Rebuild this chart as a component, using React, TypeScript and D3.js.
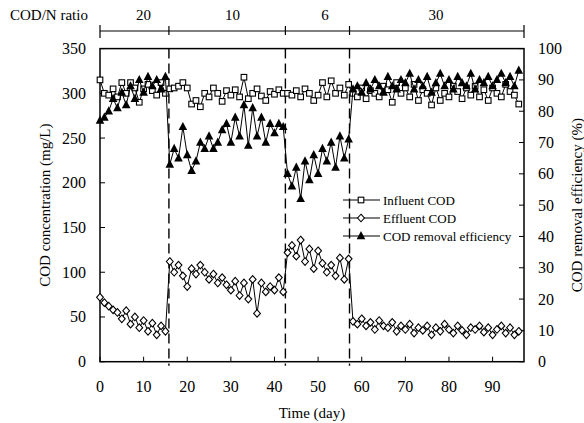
import React from "react";
import * as d3 from "d3";

const days = [
  0, 1, 2, 3, 4, 5, 6, 7, 8, 9, 10, 11, 12, 13, 14, 15,
  16, 17, 18, 19, 20, 21, 22, 23, 24, 25, 26, 27, 28, 29, 30, 31, 32, 33, 34, 35, 36, 37, 38, 39, 40, 41, 42,
  43, 44, 45, 46, 47, 48, 49, 50, 51, 52, 53, 54, 55, 56, 57,
  58, 59, 60, 61, 62, 63, 64, 65, 66, 67, 68, 69, 70, 71, 72, 73, 74, 75, 76, 77, 78, 79, 80, 81, 82, 83, 84, 85, 86, 87, 88, 89, 90, 91, 92, 93, 94, 95, 96,
];

const influentCOD = [
  315, 300, 298, 305, 296, 312, 300, 312, 306, 290, 305, 310, 303, 298, 312, 300,
  305, 306, 308, 312, 306, 288, 292, 285, 300, 296, 306, 300, 291, 303, 298, 304, 296, 318, 294, 300, 305, 297, 292, 302, 299, 304, 300,
  300, 298, 303, 296, 305, 300, 292, 298, 312, 296, 314, 300, 306, 298, 310,
  300, 296, 306, 294, 303, 300, 296, 308, 304, 290, 312, 300, 306, 296, 310, 292, 304, 300, 287, 306, 292, 300, 296, 308, 302, 294, 306, 298, 308, 296, 304, 292, 306, 300, 296, 310, 302, 298, 288,
];

const effluentCOD = [
  72, 66, 62, 58, 55, 48, 57, 42, 50, 38, 46, 34, 43, 30, 40, 34,
  112, 100, 108, 96, 84, 104, 98, 108, 100, 92, 98, 88, 94, 86, 80, 90, 74, 88, 70, 92, 54, 88, 78, 84, 80, 94, 78,
  122, 130, 118, 136, 112, 126, 104, 124, 110, 100, 108, 96, 116, 92, 115,
  45, 42, 48, 40, 44, 36, 46, 40, 38, 44, 34, 40, 36, 42, 32, 38, 35, 40, 30, 38, 34, 42, 36, 32, 40, 35, 30, 38, 36, 40, 33, 38, 30, 36, 40, 32, 38, 30, 34,
];

const removalEff = [
  77, 78, 80, 84, 81, 86, 82, 88, 84, 90, 86, 91, 88, 90, 87, 91,
  63, 68, 65, 75, 66, 61, 64, 70, 68, 72, 68, 70, 74, 76, 70, 78, 72, 82, 69, 81, 72, 78, 70, 76, 73, 76, 75,
  60, 56, 62, 52, 64, 58, 66, 60, 68, 64, 70, 62, 72, 65, 71,
  87, 88, 86, 89, 87, 90, 88, 86, 91, 88, 87, 90, 89, 92, 87, 90, 88, 91, 86, 89, 92, 88, 90, 87, 91, 89, 88, 92, 87, 90, 89, 91, 88, 90, 92, 89, 91, 88, 93,
];

const phaseBounds = [0, 15.8, 42.5, 57.2, 97.2];
const phaseLabels = ["20", "10", "6", "30"];
const phaseLabelDays = [10, 30.4, 51.6, 77];

const leftTicks = [0, 50, 100, 150, 200, 250, 300, 350];
const rightTicks = [0, 10, 20, 30, 40, 50, 60, 70, 80, 90, 100];
const xTicks = [0, 10, 20, 30, 40, 50, 60, 70, 80, 90];

const legendItems = ["Influent COD", "Effluent COD", "COD removal efficiency"];

const FONT = "'Liberation Serif', 'Times New Roman', serif";

export default function App() {
  const L = 100, R = 524, T = 48.6, B = 361.7;
  const x = d3.scaleLinear().domain([0, 97.2]).range([L, R]);
  const yL = d3.scaleLinear().domain([0, 350]).range([B, T]);
  const yR = d3.scaleLinear().domain([0, 100]).range([B, T]);

  const lineL = d3.line<number>().x((_, i) => x(days[i])).y((v) => yL(v));
  const lineR = d3.line<number>().x((_, i) => x(days[i])).y((v) => yR(v));

  const sq = (cx: number, cy: number, k: string) => (
    <rect key={k} x={cx - 2.8} y={cy - 2.8} width={5.6} height={5.6} fill="white" stroke="black" strokeWidth={1.1} />
  );
  const dia = (cx: number, cy: number, k: string) => (
    <path key={k} d={`M${cx},${cy - 3.8}L${cx + 3.4},${cy}L${cx},${cy + 3.8}L${cx - 3.4},${cy}Z`} fill="white" stroke="black" strokeWidth={1.1} />
  );
  const tri = (cx: number, cy: number, k: string) => (
    <path key={k} d={`M${cx},${cy - 5}L${cx + 4.3},${cy + 3.2}L${cx - 4.3},${cy + 3.2}Z`} fill="black" />
  );

  const bracketY = 31;
  const legX = 343, legX2 = 380, legMk = 361;
  const legYs = [200, 218, 236];

  return (
    <svg width={584} height={423} style={{ position: "absolute", left: 0, top: 0, background: "white" }} fontFamily={FONT}>
      {/* top COD/N bracket */}
      <text x={10} y={bracketY - 11} fontSize={15}>COD/N ratio</text>
      {phaseLabels.map((t, i) => (
        <text key={t} x={x(phaseLabelDays[i])} y={bracketY - 11} fontSize={15} textAnchor="middle">{t}</text>
      ))}
      <line x1={L} x2={R} y1={bracketY} y2={bracketY} stroke="black" strokeWidth={1.2} />
      {phaseBounds.map((d, i) => {
        const end = i === 0 || i === phaseBounds.length - 1;
        return (
          <line key={i} x1={x(d)} x2={x(d)} y1={bracketY - (end ? 6 : 5)} y2={bracketY + (end ? 7 : 4)} stroke="black" strokeWidth={1.2} />
        );
      })}

      {/* dashed phase dividers */}
      {phaseBounds.slice(1, 4).map((d, i) => (
        <line key={i} x1={x(d)} x2={x(d)} y1={T} y2={B + 4} stroke="black" strokeWidth={1.4} strokeDasharray="10,5" />
      ))}

      {/* frame */}
      <rect x={L} y={T} width={R - L} height={B - T} fill="none" stroke="black" strokeWidth={1.5} />

      {/* left axis ticks */}
      {leftTicks.map((t) => (
        <g key={t}>
          <line x1={L} x2={L + 5} y1={yL(t)} y2={yL(t)} stroke="black" strokeWidth={1} />
          <text x={L - 14} y={yL(t) + 5.5} fontSize={16} textAnchor="end">{t}</text>
        </g>
      ))}
      {/* right axis ticks */}
      {rightTicks.map((t) => (
        <g key={t}>
          <line x1={R - 5} x2={R} y1={yR(t)} y2={yR(t)} stroke="black" strokeWidth={1} />
          <text x={R + 14} y={yR(t) + 5.5} fontSize={16} textAnchor="start">{t}</text>
        </g>
      ))}
      {/* bottom ticks */}
      {xTicks.map((t) => (
        <g key={t}>
          <line x1={x(t)} x2={x(t)} y1={B} y2={B - 5} stroke="black" strokeWidth={1} />
          <text x={x(t)} y={B + 30} fontSize={16} textAnchor="middle">{t}</text>
        </g>
      ))}

      {/* axis titles */}
      <text x={312} y={418} fontSize={15} textAnchor="middle">Time (day)</text>
      <text transform={`translate(50,${(T + B) / 2}) rotate(-90)`} fontSize={15} textAnchor="middle">COD concentration (mg/L)</text>
      <text transform={`translate(582,${(T + B) / 2}) rotate(-90)`} fontSize={15} textAnchor="middle">COD removal efficiency (%)</text>

      {/* series */}
      <path d={lineL(influentCOD) || ""} fill="none" stroke="black" strokeWidth={1} />
      {influentCOD.map((v, i) => sq(x(days[i]), yL(v), "s" + i))}
      <path d={lineL(effluentCOD) || ""} fill="none" stroke="black" strokeWidth={1} />
      {effluentCOD.map((v, i) => dia(x(days[i]), yL(v), "d" + i))}
      <path d={lineR(removalEff) || ""} fill="none" stroke="black" strokeWidth={1} />
      {removalEff.map((v, i) => tri(x(days[i]), yR(v), "t" + i))}

      {/* legend */}
      {legendItems.map((t, i) => (
        <g key={t}>
          <line x1={legX} x2={legX2} y1={legYs[i]} y2={legYs[i]} stroke="black" strokeWidth={1.2} />
          {i === 0 ? sq(legMk, legYs[i], "ls") : i === 1 ? dia(legMk, legYs[i], "ld") : tri(legMk, legYs[i], "lt")}
          <text x={legX2 + 3} y={legYs[i] + 4.5} fontSize={13}>{t}</text>
        </g>
      ))}
    </svg>
  );
}
